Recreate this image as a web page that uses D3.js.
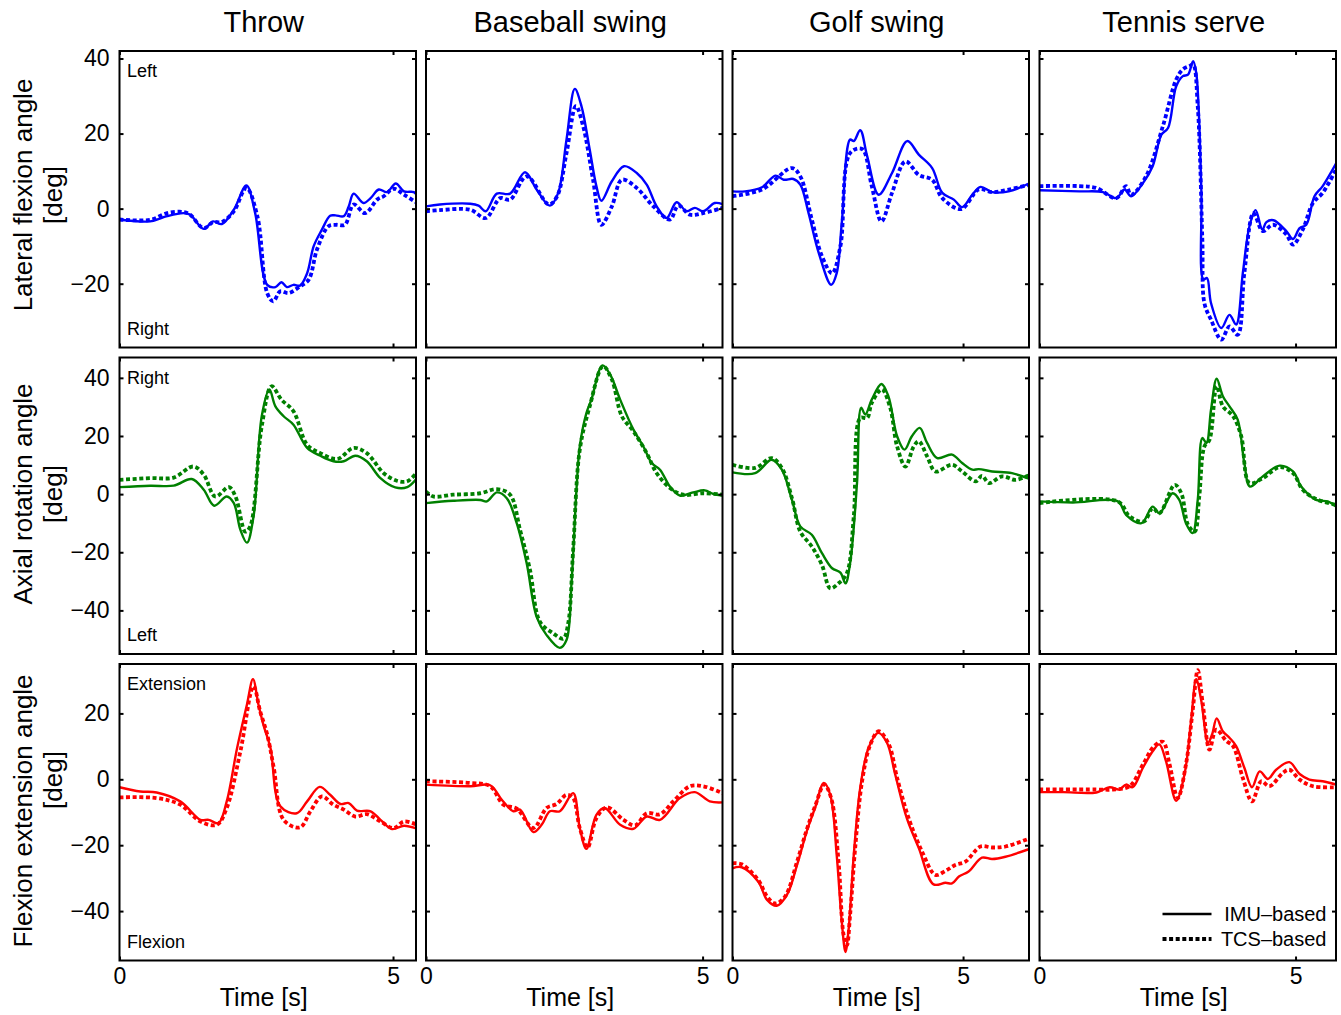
<!DOCTYPE html>
<html><head><meta charset="utf-8">
<script src="https://cdn.jsdelivr.net/npm/d3@7"></script>
<style>body{margin:0;background:#fff} text{font-family:"Liberation Sans",Arial,Helvetica,sans-serif}</style>
</head><body><svg id="c" width="1341" height="1015"></svg>
<script>
// ---- data ----
const sports = ["Throw", "Baseball swing", "Golf swing", "Tennis serve"];
const rowLabels = [["Lateral flexion angle", "[deg]"], ["Axial rotation angle", "[deg]"], ["Flexion extension angle", "[deg]"]];
const cornerTop = ["Left", "Right", "Extension"];
const cornerBottom = ["Right", "Left", "Flexion"];
const timeMax = [5.42, 5.36, 6.43, 5.79];
const yDomains = [[-37, 42], [-55, 47], [-55, 35]];
const yTicks = [[-20, 0, 20, 40], [-40, -20, 0, 20, 40], [-40, -20, 0, 20]];
const xTicks = [0, 5];
const seriesNames = ["IMU\u2013based", "TCS\u2013based"];
const rowColors = ["#0000ff", "#008000", "#ff0000"];

// Lateral flexion
const latThrowIMU = [[0,-2.9],[0.56,-3.4],[0.87,-2],[1.17,-1.2],[1.29,-1.6],[1.54,-5.4],[1.71,-3.4],[1.87,-4.1],[2.09,-0.3],[2.32,6.2],[2.48,-1.2],[2.70,-20.3],[2.85,-20.9],[2.96,-19.6],[3.06,-20.9],[3.18,-20.3],[3.30,-20.5],[3.43,-17.2],[3.55,-10],[3.70,-5.6],[3.85,-1.9],[3.95,-1.8],[4.10,-2],[4.19,0.6],[4.28,4],[4.46,1.5],[4.59,2.8],[4.74,5.1],[4.89,4.4],[5.05,6.7],[5.20,4.6],[5.38,4.4],[5.44,3.5]];
const latThrowTCS = [[0,-2.9],[0.56,-3.0],[0.87,-1.2],[1.17,-0.9],[1.29,-1.6],[1.54,-5.2],[1.71,-3.6],[1.87,-3.6],[2.09,-0.7],[2.32,5.5],[2.52,-2],[2.70,-22.5],[2.81,-24.7],[2.94,-22],[3.09,-22.5],[3.30,-20.7],[3.46,-18.9],[3.61,-10.9],[3.82,-4.7],[3.96,-4.3],[4.12,-4.3],[4.28,1.1],[4.49,-1.2],[4.71,2.4],[4.83,3.3],[5.01,5.3],[5.20,3.7],[5.44,1.5]];
const latBaseIMU = [[0,0.6],[0.25,1.1],[0.80,1.3],[0.95,0.8],[1.08,-0.7],[1.28,4],[1.52,4],[1.79,9.7],[2.00,5.1],[2.24,0.8],[2.39,4.2],[2.54,18.4],[2.69,31.9],[2.81,27.3],[2.96,15.7],[3.08,6],[3.17,2.1],[3.36,7.3],[3.58,11.3],[3.81,9.5],[3.99,6.4],[4.17,0.6],[4.35,-2.5],[4.53,1.7],[4.71,-0.7],[4.86,0.2],[5.01,-0.7],[5.22,1.5],[5.36,1.2]];
const latBaseTCS = [[0,-0.7],[0.25,-0.4],[0.80,-0.3],[1.08,-2.5],[1.34,2.8],[1.52,2.4],[1.82,8.6],[2.22,1.1],[2.37,3.3],[2.54,14.8],[2.71,27.3],[2.84,22],[3.02,7.7],[3.17,-4.3],[3.36,0.6],[3.54,7.7],[3.81,5.5],[4.11,0.6],[4.41,-2.9],[4.56,0.8],[4.77,-1.6],[5.01,-1.2],[5.36,0.2]];
const latGolfIMU = [[0,4.6],[0.27,4.6],[0.64,5.7],[0.93,8.8],[1.11,7.7],[1.32,7.9],[1.47,6.4],[1.65,-1.2],[1.87,-11.8],[2.14,-20.3],[2.26,-17.2],[2.37,-3.8],[2.55,18.4],[2.63,18],[2.77,20.9],[2.92,14],[3.17,3.7],[3.46,9.5],[3.79,18],[4.04,14.4],[4.33,10.8],[4.55,4.2],[4.80,2.4],[4.98,0.4],[5.20,3.7],[5.38,5.8],[5.63,4.4],[5.99,4.6],[6.45,6.8]];
const latGolfTCS = [[0,3.3],[0.64,5.1],[1.29,10.8],[1.47,8.6],[1.72,-2.9],[1.94,-12.7],[2.16,-17.2],[2.34,-10],[2.55,14.8],[2.81,15.9],[3.02,6],[3.23,-3.4],[3.46,4.2],[3.75,12.6],[4.04,9],[4.33,7.7],[4.55,2.8],[4.96,-0.1],[5.34,5.1],[5.63,4.4],[5.99,5.1],[6.45,6.4]];
const latTennIMU = [[0,4.9],[0.78,4.6],[1.24,4.4],[1.50,2.8],[1.66,5.1],[1.79,3.3],[2.02,6.8],[2.21,11.3],[2.38,19.7],[2.51,21.5],[2.67,32.6],[2.80,35.3],[2.90,35.7],[3.00,39.3],[3.06,36.2],[3.16,5.1],[3.20,-18.9],[3.27,-18.5],[3.35,-25.2],[3.55,-31.8],[3.71,-28.3],[3.84,-30.9],[3.97,-17.2],[4.10,-4.7],[4.22,-0.4],[4.35,-5.6],[4.43,-3.6],[4.57,-3.1],[4.82,-6],[4.95,-8.1],[5.08,-5.2],[5.21,-4.3],[5.37,3.3],[5.53,6],[5.79,12]];
const latTennTCS = [[0,6],[0.78,6],[1.11,5.5],[1.50,2.8],[1.69,6],[1.79,3.7],[2.08,8.6],[2.41,22],[2.67,34.4],[2.80,37.1],[2.93,38],[3.00,38.4],[3.09,27.3],[3.18,-8.3],[3.22,-25.2],[3.35,-29.6],[3.55,-34.9],[3.71,-31.4],[3.87,-33.6],[4.00,-17.2],[4.18,-1.2],[4.36,-6],[4.56,-4.3],[4.82,-6.9],[4.95,-9.6],[5.14,-5.6],[5.34,1.5],[5.53,4.2],[5.79,10.4]];

// Axial rotation
const axThrowIMU = [[0,2.4],[0.56,2.9],[0.99,2.9],[1.32,5.2],[1.54,1.5],[1.73,-4],[1.96,-0.8],[2.09,-3.1],[2.21,-12.3],[2.33,-16.7],[2.45,-7.7],[2.60,26.8],[2.74,36],[2.85,30.2],[3.00,26.8],[3.18,23.9],[3.43,15.9],[3.67,13.2],[3.91,11.3],[4.10,11.3],[4.31,13.2],[4.52,11.3],[4.77,5.5],[5.04,2.3],[5.26,2.4],[5.44,5.5]];
const axThrowTCS = [[0,4.9],[0.56,5.5],[0.99,5.7],[1.35,9.5],[1.54,6.7],[1.75,-0.8],[2.00,2.4],[2.12,-0.8],[2.30,-12.9],[2.39,-11.1],[2.60,23.3],[2.78,37.1],[2.96,32.5],[3.18,28.5],[3.43,17],[3.67,14.1],[3.98,12.1],[4.28,15.9],[4.52,14.1],[4.83,7.2],[5.07,4.6],[5.26,4.4],[5.44,7.5]];
const axBaseIMU = [[0,-3.1],[0.49,-2.3],[0.98,-2],[1.10,-2.5],[1.28,0.6],[1.46,-1.4],[1.64,-10],[1.82,-23.8],[2.00,-42.2],[2.18,-48.5],[2.42,-52.9],[2.54,-50.2],[2.63,-30.7],[2.72,1.5],[2.78,16.4],[2.90,27.9],[2.99,32.5],[3.19,44.3],[3.33,41.1],[3.51,32.5],[3.75,22.2],[3.93,16.4],[4.08,10.7],[4.23,8.4],[4.41,2.6],[4.59,-0.5],[4.83,0.6],[5.04,1.3],[5.19,0.1],[5.36,-0.5]];
const axBaseTCS = [[0,0.9],[0.13,-0.8],[0.49,-0.2],[0.98,0.3],[1.28,1.7],[1.52,-0.2],[1.70,-12.3],[1.88,-26.1],[2.06,-43.9],[2.30,-47.9],[2.48,-49.7],[2.57,-44.5],[2.66,-19.2],[2.78,15.3],[2.96,30.2],[3.20,44],[3.36,39.4],[3.54,26.8],[3.75,21.6],[3.99,14.1],[4.17,7.2],[4.41,2.1],[4.65,-0.2],[5.01,0.3],[5.36,-0.2]];
const axGolfIMU = [[0,7.5],[0.49,7.2],[0.85,11.8],[1.07,8.4],[1.29,-2],[1.47,-11.1],[1.72,-14],[1.94,-20.3],[2.16,-25.5],[2.34,-27],[2.45,-30.7],[2.55,-23.8],[2.70,3.8],[2.79,29.7],[2.88,27.4],[3.02,32.5],[3.23,37.9],[3.38,33.7],[3.57,19.9],[3.73,15.3],[3.89,19.9],[4.06,22.8],[4.22,17.6],[4.44,12.4],[4.76,13.6],[4.98,10.7],[5.20,8.4],[5.34,8.6],[5.63,7.8],[6.06,7.2],[6.45,5.2]];
const axGolfTCS = [[0,10.1],[0.49,9],[0.85,12.4],[1.07,9],[1.29,-1.4],[1.47,-12.9],[1.72,-18],[1.94,-24.4],[2.12,-32.4],[2.30,-30.7],[2.48,-27.2],[2.63,-7.7],[2.77,26.2],[2.92,26.2],[3.02,31.4],[3.24,36],[3.42,29.7],[3.57,16.4],[3.75,9.5],[3.93,16.4],[4.04,18.2],[4.22,13],[4.40,7.8],[4.76,10.1],[4.98,7.8],[5.27,4.4],[5.41,6.3],[5.56,3.8],[5.85,6.1],[6.14,4.9],[6.45,6.7]];
const axTennIMU = [[0,-2.5],[0.65,-2.9],[1.53,-2.5],[1.69,-7.1],[1.99,-10],[2.21,-4.3],[2.34,-6.6],[2.60,0.3],[2.73,-2],[2.86,-10],[2.99,-13.4],[3.09,-2],[3.18,19.3],[3.26,17.6],[3.35,29.1],[3.46,39.7],[3.58,33.7],[3.71,30.2],[3.87,25.6],[4.00,10.7],[4.11,2.6],[4.36,6.1],[4.69,9.8],[4.95,7.8],[5.11,2.6],[5.40,-2],[5.63,-2.5],[5.79,-4.3]];
const axTennTCS = [[0,-3.1],[1.53,-2.5],[1.76,-7.7],[2.04,-9.4],[2.21,-4.8],[2.34,-6.6],[2.64,3.2],[2.77,0.3],[2.90,-10.6],[3.03,-12.9],[3.12,-0.8],[3.22,16.4],[3.32,18.7],[3.46,37.1],[3.58,30.2],[3.78,26.8],[3.94,19.9],[4.10,3.8],[4.36,5.5],[4.69,9.3],[4.95,7.2],[5.14,1.5],[5.40,-1.7],[5.79,-3.7]];

// Flexion extension
const flThrowIMU = [[0,-2.4],[0.38,-3.7],[0.68,-4],[1.11,-6.7],[1.48,-12.3],[1.63,-12.3],[1.81,-13.3],[1.96,-6.7],[2.15,9.5],[2.33,22.7],[2.44,30.4],[2.54,22.7],[2.63,16.6],[2.76,9.5],[2.94,-8.2],[3.24,-10.3],[3.43,-6.7],[3.66,-2.3],[3.85,-4.7],[4.04,-7.5],[4.19,-7.2],[4.34,-9.5],[4.59,-9.7],[4.77,-12.3],[4.98,-15.1],[5.20,-14.1],[5.44,-15]];
const flThrowTCS = [[0,-5.5],[0.68,-5.7],[1.11,-7.7],[1.48,-12.8],[1.78,-13.8],[1.96,-8.7],[2.21,8.5],[2.45,28.3],[2.57,20.7],[2.70,13.6],[2.82,3.5],[3.00,-12.3],[3.30,-14.6],[3.49,-9.7],[3.70,-5.2],[3.91,-7.7],[4.10,-9.2],[4.31,-11.3],[4.52,-10.6],[4.77,-12.8],[5.01,-14.8],[5.20,-12.8],[5.44,-13.8]];
const flBaseIMU = [[0,-1.6],[0.80,-2.1],[1.16,-1.8],[1.37,-6.2],[1.58,-9.7],[1.70,-9.2],[1.94,-16],[2.09,-13.8],[2.24,-9.7],[2.42,-9.7],[2.66,-4.2],[2.78,-14.8],[2.90,-21.1],[3.08,-10.8],[3.23,-8.7],[3.51,-13.8],[3.75,-15],[3.99,-11.3],[4.23,-12.3],[4.59,-5.7],[4.86,-3.9],[5.13,-6.7],[5.36,-7]];
const flBaseTCS = [[0,-0.6],[0.80,-1.1],[1.16,-2.1],[1.40,-7.7],[1.64,-8.9],[1.94,-14.8],[2.18,-8.7],[2.36,-7.5],[2.54,-4.7],[2.66,-5.7],[2.78,-14.8],[2.92,-20.7],[3.08,-11.8],[3.27,-8.5],[3.57,-12.3],[3.78,-14],[3.99,-10.3],[4.23,-10.6],[4.47,-6.7],[4.77,-2.1],[5.01,-2.1],[5.36,-4.2]];
const flGolfIMU = [[0,-27],[0.20,-26.7],[0.56,-31.1],[0.75,-36.6],[0.96,-38.4],[1.18,-35.1],[1.40,-26],[1.61,-15.8],[1.79,-8.7],[1.98,-1.1],[2.12,-4.7],[2.26,-23],[2.37,-43.2],[2.45,-52.4],[2.52,-45.3],[2.63,-23],[2.77,-2.6],[2.95,9.5],[3.16,14.1],[3.35,11.1],[3.53,1.4],[3.78,-11.8],[4.04,-20.9],[4.36,-31.9],[4.62,-31.4],[4.76,-31.6],[4.91,-29.5],[5.12,-28],[5.41,-23.8],[5.63,-24.2],[5.92,-23.5],[6.45,-21.1]];
const flGolfTCS = [[0,-25.5],[0.20,-25.8],[0.56,-30.6],[0.75,-35.6],[0.93,-37.7],[1.14,-35.6],[1.40,-25],[1.61,-15.3],[1.79,-8.2],[1.99,-1.6],[2.14,-5.7],[2.30,-25],[2.41,-47.3],[2.48,-50.4],[2.55,-41.2],[2.66,-20.9],[2.81,-0.6],[2.99,10.6],[3.17,14.6],[3.39,10.6],[3.57,0.4],[3.82,-11.8],[4.11,-21.9],[4.40,-29],[4.62,-27.8],[4.83,-26],[5.05,-25],[5.38,-20.4],[5.63,-20.7],[5.92,-20.4],[6.45,-17.9]];
const flTennIMU = [[0,-3.9],[0.46,-3.9],[1.11,-4],[1.37,-2.4],[1.56,-3.1],[1.69,-1.6],[1.82,-2.4],[2.02,3.5],[2.21,8.5],[2.34,10.6],[2.47,5.5],[2.67,-6.5],[2.83,1.4],[2.96,17.7],[3.06,30.4],[3.16,23.8],[3.29,11.1],[3.37,13.6],[3.46,18.5],[3.58,14.6],[3.71,12.6],[3.84,10.1],[4.00,3.5],[4.15,-2.4],[4.30,2.4],[4.46,0.1],[4.62,2.9],[4.88,5.2],[5.08,1.6],[5.27,-0.1],[5.53,-0.6],[5.79,-1.6]];
const flTennTCS = [[0,-3.1],[1.11,-3.1],[1.43,-3.1],[1.76,-2.1],[2.02,4.5],[2.24,10.1],[2.41,11.4],[2.54,4.5],[2.70,-5.7],[2.86,4.5],[2.99,20.7],[3.09,33.1],[3.19,22.7],[3.32,9],[3.45,15.1],[3.65,11.6],[3.78,10.1],[3.97,0.4],[4.15,-6.7],[4.33,-0.6],[4.49,-2.1],[4.75,1.9],[4.88,2.9],[5.08,-0.1],[5.34,-2.1],[5.79,-2.4]];

const panels = [
  [[latThrowIMU, latThrowTCS], [latBaseIMU, latBaseTCS], [latGolfIMU, latGolfTCS], [latTennIMU, latTennTCS]],
  [[axThrowIMU, axThrowTCS], [axBaseIMU, axBaseTCS], [axGolfIMU, axGolfTCS], [axTennIMU, axTennTCS]],
  [[flThrowIMU, flThrowTCS], [flBaseIMU, flBaseTCS], [flGolfIMU, flGolfTCS], [flTennIMU, flTennTCS]]
];

// ---- layout ----
const svg = d3.select("#c");
const lefts = [119.5, 426, 732.5, 1039.5];
const tops = [51, 357.5, 664];
const W = 296.5, H = 296.5;
const labelCenters = [[195, 195], [494, 494], [811, 780]];
const fmt = d3.format("d");

panels.forEach((row, r) => {
  row.forEach((pair, c) => {
    const g = svg.append("g").attr("transform", `translate(${lefts[c]},${tops[r]})`);
    const x = d3.scaleLinear().domain([0, timeMax[c]]).range([0, W]);
    const y = d3.scaleLinear().domain(yDomains[r]).range([H, 0]);
    const clipId = `clip-${r}-${c}`;
    g.append("clipPath").attr("id", clipId).append("rect").attr("width", W).attr("height", H);
    const line = d3.line().x(d => x(d[0])).y(d => y(d[1])).curve(d3.curveCatmullRom.alpha(0.5));
    const lg = g.append("g").attr("clip-path", `url(#${clipId})`);
    lg.append("path").datum(pair[0]).attr("d", line).attr("fill", "none")
      .attr("stroke", rowColors[r]).attr("stroke-width", 2.4).attr("stroke-linejoin", "round");
    lg.append("path").datum(pair[1]).attr("d", line).attr("fill", "none")
      .attr("stroke", rowColors[r]).attr("stroke-width", 3.8).attr("stroke-dasharray", "4 2.6");

    // axes (inward ticks)
    const yl = d3.axisLeft(y).tickValues(yTicks[r]).tickSizeInner(-4).tickSizeOuter(0).tickPadding(10)
      .tickFormat(c === 0 ? fmt : "");
    const yr = d3.axisRight(y).tickValues(yTicks[r]).tickSizeInner(-4).tickSizeOuter(0).tickFormat("");
    const xb = d3.axisBottom(x).tickValues(xTicks).tickSizeInner(-4).tickSizeOuter(0).tickPadding(7)
      .tickFormat(r === 2 ? fmt : "");
    const xt = d3.axisTop(x).tickValues(xTicks).tickSizeInner(-4).tickSizeOuter(0).tickFormat("");
    const styleAxis = s => {
      s.select(".domain").remove();
      s.selectAll("line").attr("stroke", "#000").attr("stroke-width", 2);
      s.selectAll("text").attr("fill", "#000").style("font-size", "23px")
        .style("font-family", '"Liberation Sans",Arial,sans-serif');
    };
    g.append("g").call(yl).call(styleAxis);
    g.append("g").attr("transform", `translate(${W},0)`).call(yr).call(styleAxis);
    g.append("g").attr("transform", `translate(0,${H})`).call(xb).call(styleAxis);
    g.append("g").call(xt).call(styleAxis);

    g.append("rect").attr("width", W).attr("height", H).attr("fill", "none")
      .attr("stroke", "#000").attr("stroke-width", 2);

    if (c === 0) {
      g.append("text").attr("x", 7.5).attr("y", 26).text(cornerTop[r]).style("font-size", "18px");
      g.append("text").attr("x", 7.5).attr("y", H - 13).text(cornerBottom[r]).style("font-size", "18px");
    }
    if (r === 0) {
      svg.append("text").attr("x", lefts[c] + W / 2 - 4).attr("y", 32).attr("text-anchor", "middle")
        .style("font-size", "29px").text(sports[c]);
    }
    if (r === 2) {
      svg.append("text").attr("x", lefts[c] + W / 2 - 4).attr("y", 1006).attr("text-anchor", "middle")
        .style("font-size", "25px").text("Time [s]");
    }
    if (r === 2 && c === 3) {
      const leg = g.append("g");
      const items = [{y: 250, dash: null, w: 2.4}, {y: 275, dash: "4 2.6", w: 3.8}];
      items.forEach((it, i) => {
        const ln = leg.append("line").attr("x1", 123).attr("x2", 172).attr("y1", it.y).attr("y2", it.y)
          .attr("stroke", "#000").attr("stroke-width", it.w);
        if (it.dash) ln.attr("stroke-dasharray", it.dash);
        leg.append("text").attr("x", 287).attr("y", it.y + 7).attr("text-anchor", "end")
          .style("font-size", "20px").text(seriesNames[i]);
      });
    }
  });
  // row labels
  const [c1, c2] = labelCenters[r];
  svg.append("text").attr("transform", `translate(32,${c1}) rotate(-90)`).attr("text-anchor", "middle")
    .style("font-size", "26px").text(rowLabels[r][0]);
  svg.append("text").attr("transform", `translate(62,${c2}) rotate(-90)`).attr("text-anchor", "middle")
    .style("font-size", "26px").text(rowLabels[r][1]);
});
</script>
</body></html>
